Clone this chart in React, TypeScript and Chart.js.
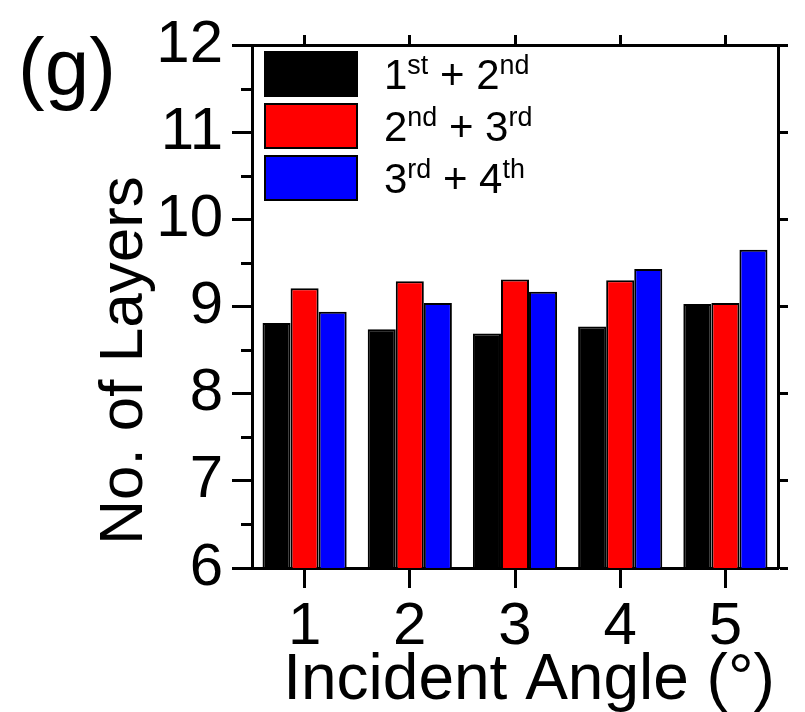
import { useEffect, useRef } from "react";
import { Chart, registerables } from "chart.js";

Chart.register(...registerables);

// Incident angle categories and the layer counts for each interface pair
const categories = ["1", "2", "3", "4", "5"];
const firstSecond = [8.81, 8.74, 8.69, 8.77, 9.03];
const secondThird = [9.21, 9.29, 9.31, 9.3, 9.04];
const thirdFourth = [8.94, 9.04, 9.17, 9.43, 9.65];

// Legend labels; "^xx" marks a superscript suffix
const seriesLabels = ["1^st + 2^nd", "2^nd + 3^rd", "3^rd + 4^th"];
const seriesColors = ["#000000", "#ff0000", "#0000ff"];

const yMin = 6;
const yMax = 12;
const yStep = 1;

const xTitle = "Incident Angle (°)";
const yTitle = "No. of Layers";
const panelLabel = "(g)";

const FONT = "'Liberation Sans', Arial, Helvetica, sans-serif";

function drawRich(ctx: CanvasRenderingContext2D, text: string, x: number, y: number, size: number) {
  const parts = text.split(/(\^[A-Za-z]+)/).filter((p) => p.length > 0);
  let cx = x;
  for (const p of parts) {
    if (p.startsWith("^")) {
      const s = p.slice(1);
      const sub = size * 0.64;
      ctx.font = `${sub}px ${FONT}`;
      ctx.fillText(s, cx, y - size * 0.36);
      cx += ctx.measureText(s).width;
    } else {
      ctx.font = `${size}px ${FONT}`;
      ctx.fillText(p, cx, y);
      cx += ctx.measureText(p).width;
    }
  }
}

const framePlugin = {
  id: "frameDecor",
  afterDraw(chart: any) {
    const ctx: CanvasRenderingContext2D = chart.ctx;
    const { left, right, top, bottom } = chart.chartArea;
    const yScale = chart.scales.y;
    ctx.save();

    // minor ticks on the left axis, halfway between labelled values
    ctx.strokeStyle = "#000";
    ctx.lineWidth = 3;
    for (let v = yMin + yStep / 2; v < yMax; v += yStep) {
      const py = Math.round(yScale.getPixelForValue(v)) + 0.5;
      ctx.beginPath();
      ctx.moveTo(left, py);
      ctx.lineTo(left - 11, py);
      ctx.stroke();
    }

    // legend inside the plot, upper-left corner
    const boxW = 94;
    const boxH = 46;
    const rowGap = 52;
    const bx = left + 12;
    const by = top + 6;
    chart.data.datasets.forEach((ds: any, i: number) => {
      const y0 = by + i * rowGap;
      ctx.fillStyle = ds.backgroundColor;
      ctx.fillRect(bx, y0, boxW, boxH);
      ctx.lineWidth = 2;
      ctx.strokeStyle = "#000";
      ctx.strokeRect(bx + 1, y0 + 1, boxW - 2, boxH - 2);
      ctx.fillStyle = "#000";
      ctx.textBaseline = "alphabetic";
      ctx.textAlign = "left";
      drawRich(ctx, seriesLabels[i], bx + boxW + 26, y0 + boxH / 2 + 15, 42);
    });

    // axis titles
    ctx.fillStyle = "#000";
    ctx.font = `64px ${FONT}`;
    ctx.textAlign = "center";
    ctx.textBaseline = "alphabetic";
    ctx.fillText(xTitle, (left + right) / 2 + 14, chart.height - 13);

    ctx.save();
    ctx.font = `62px ${FONT}`;
    ctx.translate(left - 127, (top + bottom) / 2 + 54);
    ctx.rotate(-Math.PI / 2);
    ctx.textBaseline = "middle";
    ctx.fillText(yTitle, 0, 0);
    ctx.restore();

    // panel label
    ctx.textAlign = "left";
    ctx.textBaseline = "alphabetic";
    ctx.font = `80px ${FONT}`;
    ctx.fillText(panelLabel, 18, 94);

    ctx.restore();
  },
};

export default function App() {
  const canvasRef = useRef<HTMLCanvasElement | null>(null);

  useEffect(() => {
    const canvas = canvasRef.current;
    if (!canvas) return;
    const tickFont = { family: FONT, size: 60 };
    const chart = new Chart(canvas, {
      type: "bar",
      data: {
        labels: categories,
        datasets: [
          { label: seriesLabels[0], data: firstSecond, backgroundColor: seriesColors[0] },
          { label: seriesLabels[1], data: secondThird, backgroundColor: seriesColors[1] },
          { label: seriesLabels[2], data: thirdFourth, backgroundColor: seriesColors[2] },
        ].map((d) => ({
          ...d,
          borderColor: "#000",
          borderWidth: 2,
          borderSkipped: false,
          categoryPercentage: 0.8,
          barPercentage: 1.0,
        })),
      },
      options: {
        responsive: false,
        animation: false,
        devicePixelRatio: 1,
        layout: { padding: { left: 0, right: 17, top: 31, bottom: 0 } },
        plugins: {
          legend: { display: false },
          tooltip: { enabled: false },
        },
        scales: {
          x: {
            type: "category",
            position: "bottom",
            offset: true,
            border: { display: true, color: "#000", width: 3 },
            grid: {
              offset: false,
              drawOnChartArea: false,
              drawTicks: true,
              tickLength: 20,
              tickWidth: 3,
              tickColor: "#000",
            },
            ticks: { font: tickFont, color: "#000", padding: 3, maxRotation: 0 },
            afterFit: (s: any) => {
              s.height = 144;
            },
          },
          x2: {
            type: "category",
            position: "top",
            offset: true,
            border: { display: true, color: "#000", width: 3 },
            grid: {
              offset: false,
              drawOnChartArea: false,
              drawTicks: true,
              tickLength: 10,
              tickWidth: 3,
              tickColor: "#000",
            },
            ticks: { display: false },
            afterFit: (s: any) => {
              s.height = 10;
            },
          },
          y: {
            type: "linear",
            position: "left",
            min: yMin,
            max: yMax,
            border: { display: true, color: "#000", width: 3 },
            grid: {
              drawOnChartArea: false,
              drawTicks: true,
              tickLength: 20,
              tickWidth: 3,
              tickColor: "#000",
            },
            ticks: { stepSize: yStep, font: tickFont, color: "#000", padding: 9 },
            afterFit: (s: any) => {
              s.width = 252;
            },
          },
          y2: {
            type: "linear",
            position: "right",
            min: yMin,
            max: yMax,
            border: { display: true, color: "#000", width: 3 },
            grid: {
              drawOnChartArea: false,
              drawTicks: true,
              tickLength: 10,
              tickWidth: 3,
              tickColor: "#000",
            },
            ticks: { stepSize: yStep, display: false },
            afterFit: (s: any) => {
              s.width = 10;
            },
          },
        },
      },
      plugins: [framePlugin],
    });
    return () => chart.destroy();
  }, []);

  return (
    <div
      style={{
        position: "fixed",
        left: 0,
        top: 0,
        width: 805,
        height: 712,
        background: "#ffffff",
      }}
    >
      <canvas ref={canvasRef} width={805} height={712} style={{ display: "block" }} />
    </div>
  );
}
